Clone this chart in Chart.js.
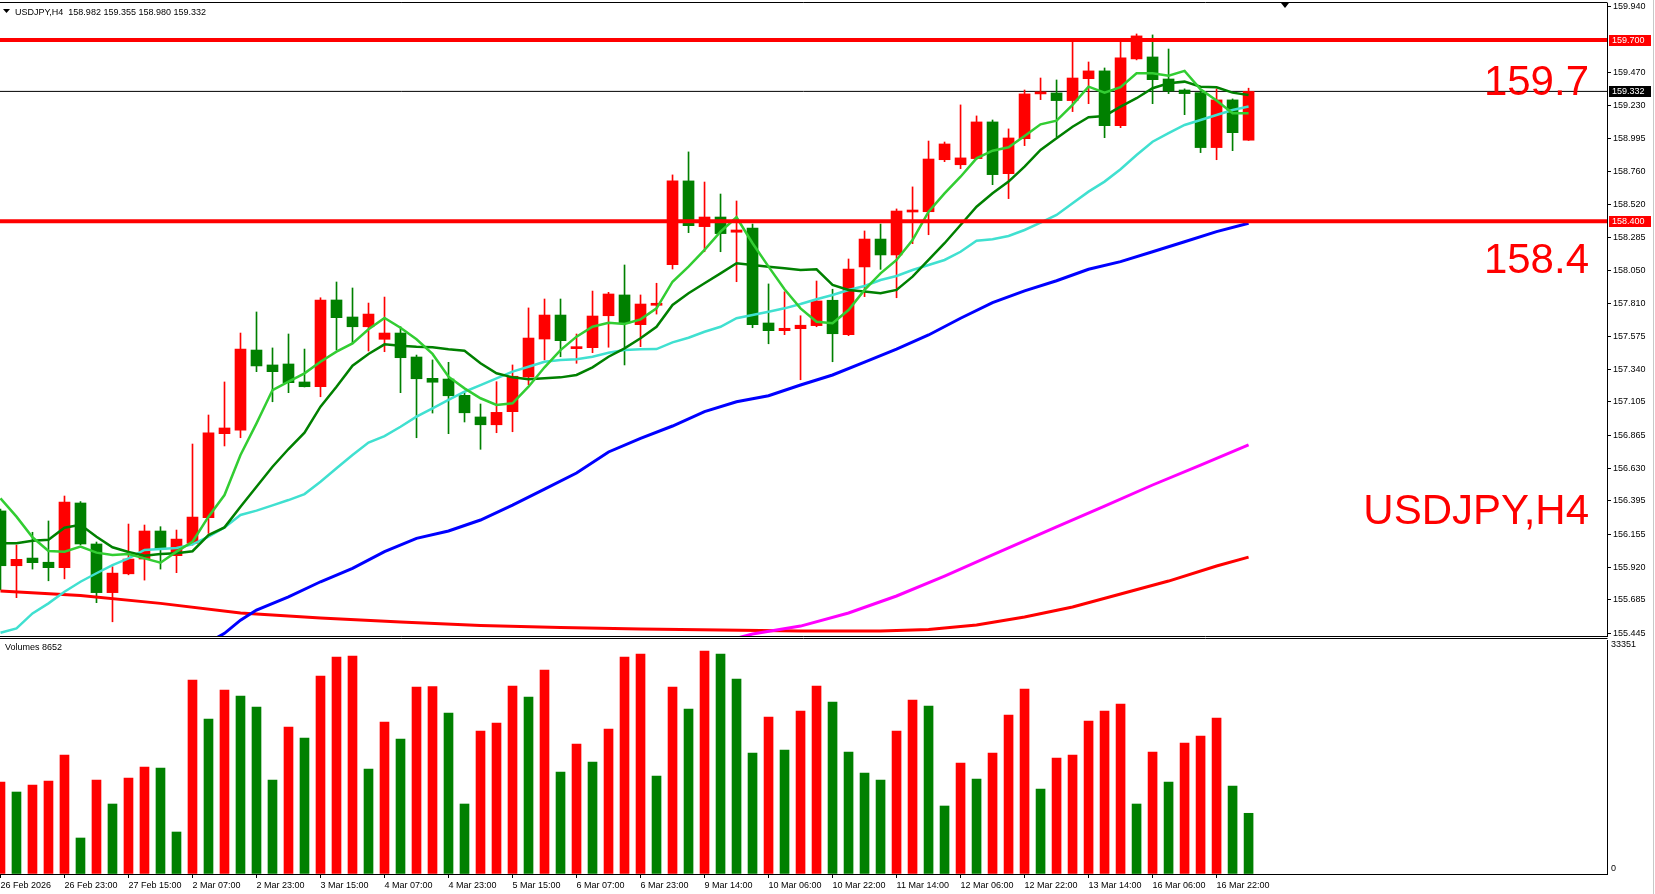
<!DOCTYPE html>
<html>
<head>
<meta charset="UTF-8">
<title>USDJPY,H4</title>
<script src="https://cdn.jsdelivr.net/npm/chart.js"></script>
<style>
  body { margin: 0; background: #fff; }
  #wrap { position: relative; width: 1655px; height: 894px; overflow: hidden; background: #fff; }
  #priceChart { position: absolute; left: 0; top: 0; }
  #volumeChart { position: absolute; left: 0; top: 637px; }
</style>
</head>
<body>
<div id="wrap">
  <canvas id="priceChart" width="1655" height="640"></canvas>
  <canvas id="volumeChart" width="1655" height="257"></canvas>
</div>
<script>
const symbol = 'USDJPY,H4';

// H4 candles, oldest first (bar index 0..78)
const opens = [156.323,155.930,155.985,155.955,155.916,156.380,156.086,155.737,155.872,155.978,
  156.179,156.002,156.091,156.274,156.877,156.903,157.477,157.370,157.377,157.248,
  157.214,157.836,157.714,157.644,157.554,157.599,157.427,157.274,157.269,157.152,
  156.997,156.941,157.035,157.284,157.556,157.728,157.487,157.494,157.723,157.872,
  157.659,157.798,158.089,158.690,158.362,158.431,158.322,158.352,157.671,157.616,
  157.630,157.652,157.834,157.587,158.073,158.273,158.159,158.467,158.469,158.842,
  158.806,158.850,159.113,158.742,158.993,159.314,159.321,159.266,159.423,159.479,
  159.086,159.565,159.579,159.421,159.342,159.323,158.929,159.271,158.982];
const highs = [156.337,156.078,156.170,156.251,156.430,156.390,156.100,155.923,156.229,156.222,
  156.210,156.186,156.803,157.011,157.248,157.599,157.750,157.492,157.592,157.484,
  157.852,157.965,157.922,157.814,157.857,157.644,157.441,157.406,157.389,157.169,
  157.090,157.250,157.370,157.779,157.843,157.843,157.592,157.900,157.891,158.087,
  157.872,157.956,158.733,158.898,158.682,158.596,158.546,158.381,157.951,157.895,
  157.723,157.972,157.913,158.130,158.331,158.381,158.489,158.647,158.976,158.969,
  159.235,159.156,159.127,159.063,159.342,159.428,159.414,159.687,159.543,159.500,
  159.687,159.744,159.737,159.636,159.350,159.335,159.350,159.278,159.355];
const lows = [155.756,155.701,155.906,155.822,155.836,156.080,155.665,155.528,155.865,155.827,
  155.906,155.880,156.078,156.162,156.789,156.848,157.322,157.106,157.171,157.212,
  157.142,157.477,157.527,157.470,157.465,157.171,156.848,157.025,156.877,156.961,
  156.765,156.884,156.891,157.228,157.406,157.429,157.382,157.458,157.497,157.370,
  157.501,157.735,158.058,158.319,158.182,158.182,157.967,157.637,157.522,157.587,
  157.264,157.644,157.393,157.580,157.860,158.056,157.852,158.240,158.304,158.828,
  158.778,158.845,158.663,158.563,158.943,159.273,159.007,159.187,159.244,159.000,
  159.072,159.558,159.244,159.316,159.165,158.893,158.842,158.907,158.980];
const closes = [155.930,155.976,155.952,155.916,156.387,156.086,155.737,155.877,155.978,156.179,
  156.050,156.121,156.279,156.884,156.918,157.484,157.363,157.322,157.243,157.214,
  157.836,157.709,157.644,157.735,157.599,157.422,157.271,157.246,157.149,157.027,
  156.941,157.030,157.289,157.563,157.728,157.544,157.499,157.721,157.879,157.671,
  157.807,157.807,158.690,158.369,158.431,158.312,158.338,157.659,157.616,157.633,
  157.655,157.829,157.594,158.058,158.273,158.159,158.474,158.474,158.847,158.955,
  158.855,159.113,158.735,158.998,159.314,159.323,159.266,159.428,159.479,159.086,
  159.572,159.730,159.416,159.335,159.316,158.929,159.271,159.036,159.332];

const volumes = [13110,11685,12683,13253,16958,5130,13395,9975,13680,15248,
  15105,5985,27645,22088,26220,25365,23798,13395,20948,19380,
  28215,30923,31065,14963,21660,19238,26648,26700,22943,9975,
  20378,21518,26790,25223,29070,14535,18525,15960,20663,30923,
  31350,13965,26648,23513,31778,31350,27788,17243,22373,17670,
  23228,26790,24510,17385,14393,13395,20378,24795,23940,9690,
  15818,13538,17243,22658,26363,12113,16530,16958,21803,23228,
  24225,9975,17385,13110,18668,19665,22230,12540,8652];
const volumeScaleMax = 33351;

// moving averages read per bar
const maLime = [156.413,156.282,156.134,156.036,156.031,156.067,156.024,156.007,156.014,155.983,
  155.952,156.031,156.102,156.282,156.437,156.724,156.951,157.190,157.250,157.310,
  157.393,157.465,157.525,157.626,157.707,157.637,157.554,157.449,157.286,157.202,
  157.131,157.083,157.095,157.214,157.353,157.477,157.573,157.644,157.673,157.664,
  157.697,157.776,157.967,158.075,158.195,158.326,158.429,158.243,158.075,157.913,
  157.776,157.680,157.669,157.764,157.908,158.027,158.123,158.266,158.469,158.601,
  158.720,158.852,158.907,158.931,159.012,159.096,159.122,159.235,159.366,159.323,
  159.362,159.462,159.462,159.445,159.479,159.347,159.266,159.175,159.175];
const maGreen = [156.091,156.091,156.109,156.116,156.203,156.224,156.138,156.062,156.029,156.002,
  156.014,156.019,156.034,156.150,156.205,156.353,156.497,156.640,156.767,156.884,
  157.071,157.214,157.365,157.449,157.518,157.508,157.501,157.497,157.482,157.472,
  157.382,157.310,157.281,157.267,157.274,157.281,157.298,157.353,157.429,157.489,
  157.561,157.644,157.800,157.884,157.956,158.027,158.099,158.087,158.075,158.063,
  158.051,158.056,157.944,157.908,157.896,157.884,157.908,158.003,158.123,158.243,
  158.374,158.505,158.601,158.685,158.792,158.912,158.996,159.079,159.147,159.156,
  159.223,159.283,159.355,159.390,159.402,159.366,159.362,159.323,159.306];
const maTurq = [155.449,155.481,155.588,155.660,155.743,155.815,155.876,155.935,155.983,156.043,
  156.050,156.057,156.083,156.138,156.205,156.294,156.325,156.363,156.401,156.444,
  156.532,156.629,156.724,156.814,156.860,156.927,156.999,157.059,157.119,157.178,
  157.226,157.274,157.322,157.357,157.393,157.406,157.411,157.429,157.458,157.477,
  157.482,157.484,157.532,157.565,157.608,157.644,157.705,157.728,157.752,157.776,
  157.807,157.841,157.872,157.908,157.936,157.979,158.008,158.051,158.087,158.123,
  158.182,158.261,158.271,158.295,158.338,158.390,158.446,158.530,158.613,158.685,
  158.774,158.876,158.971,159.032,159.091,159.127,159.163,159.199,159.223];

// slower averages, read at the listed bars
const maBlueBars = [13,14,15,16,18,20,22,24,26,28,30,32,34,36,38,40,42,44,46,48,50,52,54,56,58,60,62,64,66,68,70,72,74,76,78];
const maBlueVals = [155.380,155.445,155.540,155.612,155.707,155.815,155.911,156.031,156.126,156.179,
  156.258,156.365,156.480,156.595,156.746,156.844,156.932,157.035,157.106,157.149,
  157.226,157.298,157.391,157.484,157.585,157.705,157.817,157.901,157.974,158.056,
  158.111,158.182,158.254,158.326,158.386];
const maMagentaBars = [46,47,50,53,56,59,62,66,69,72,75,78];
const maMagentaVals = [155.410,155.440,155.497,155.591,155.713,155.856,156.007,156.208,156.358,156.509,156.652,156.796];
const maRedBars = [0,5,10,15,20,25,30,35,40,45,50,55,58,61,64,67,70,73,76,78];
const maRedVals = [155.749,155.716,155.660,155.591,155.555,155.526,155.501,155.487,155.476,155.469,
  155.461,155.461,155.472,155.505,155.562,155.634,155.727,155.820,155.928,155.992];

const levels = [159.7, 158.4];
const priceTicks = [159.940,159.470,159.230,158.995,158.760,158.520,158.285,158.050,157.810,157.575,
  157.340,157.105,156.865,156.630,156.395,156.155,155.920,155.685,155.445];
const tickLabels = ['26 Feb 2026','26 Feb 23:00','27 Feb 15:00','2 Mar 07:00','2 Mar 23:00','3 Mar 15:00',
  '4 Mar 07:00','4 Mar 23:00','5 Mar 15:00','6 Mar 07:00','6 Mar 23:00','9 Mar 14:00','10 Mar 06:00',
  '10 Mar 22:00','11 Mar 14:00','12 Mar 06:00','12 Mar 22:00','13 Mar 14:00','16 Mar 06:00','16 Mar 22:00'];
const barsPerTick = 4;

const RED = '#ff0000';
const GREEN = '#008000';
const FONT = '"Liberation Sans", Arial, sans-serif';
Chart.defaults.font.family = FONT;

const idx = opens.map((_, i) => i);
const last = opens.length - 1;
const candleColors = idx.map(i => closes[i] > opens[i] ? RED : GREEN);
const volColors = idx.map(i => (i === 0 || volumes[i] > volumes[i - 1]) ? RED : GREEN);

const perBar = arr => arr.map((v, i) => ({x: i, y: v}));
const sampled = (bars, vals) => bars.map((k, j) => ({x: k, y: vals[j]}));
const hline = v => [{x: -2, y: v}, {x: 102, y: v}];

function maLine(data, color, width, order) {
  return { type: 'line', data: data, borderColor: color, borderWidth: width,
    pointRadius: 0, tension: 0, fill: false, order: order };
}

// same bar spacing on both panels
const xRange = { type: 'linear', min: -0.03, max: 100.4, offset: false };

function fixWidth(scale) {
  scale.width = 48;
  scale.paddingTop = 0;
  scale.paddingBottom = 0;
}

const priceDecor = {
  id: 'priceDecor',
  afterDraw(chart) {
    const ctx = chart.ctx;
    const a = chart.chartArea;
    const y = chart.scales.y;
    ctx.save();
    ctx.strokeStyle = '#000';
    ctx.lineWidth = 1;
    ctx.beginPath();
    ctx.moveTo(0, 2.5); ctx.lineTo(a.right + 0.5, 2.5);
    ctx.moveTo(0, a.bottom + 0.5); ctx.lineTo(a.right + 0.5, a.bottom + 0.5);
    ctx.stroke();
    ctx.strokeStyle = '#c8c8c8';
    ctx.beginPath(); ctx.moveTo(1653.5, 0); ctx.lineTo(1653.5, 640); ctx.stroke();

    // price tags on the axis
    ctx.font = '9px ' + FONT;
    ctx.textAlign = 'left';
    ctx.textBaseline = 'middle';
    const tag = (v, bg) => {
      const py = Math.round(y.getPixelForValue(v));
      ctx.fillStyle = bg;
      ctx.fillRect(a.right + 2, py - 5, 42, 11);
      ctx.fillStyle = '#fff';
      ctx.fillText(v.toFixed(3), a.right + 5, py + 0.5);
    };
    levels.forEach(v => tag(v, RED));
    tag(closes[last], '#000');

    // header
    ctx.fillStyle = '#000';
    ctx.beginPath(); ctx.moveTo(3, 9); ctx.lineTo(10, 9); ctx.lineTo(6.5, 13); ctx.closePath(); ctx.fill();
    ctx.textBaseline = 'alphabetic';
    ctx.fillText(symbol + '  ' + [opens[last], highs[last], lows[last], closes[last]].map(v => v.toFixed(3)).join(' '), 15, 14.5);
    // shift marker
    ctx.beginPath(); ctx.moveTo(1281, 3); ctx.lineTo(1289, 3); ctx.lineTo(1285, 8); ctx.closePath(); ctx.fill();

    // large labels
    ctx.fillStyle = RED;
    ctx.font = '42px ' + FONT;
    ctx.textAlign = 'right';
    ctx.fillText(levels[0].toFixed(1), 1589, 95);
    ctx.fillText(levels[1].toFixed(1), 1589, 273);
    ctx.fillText(symbol, 1589, 524);
    ctx.restore();
  }
};

new Chart(document.getElementById('priceChart'), {
  data: {
    datasets: [
      { type: 'bar', data: idx.map(i => ({x: i, y: [lows[i], highs[i]]})), backgroundColor: candleColors,
        barThickness: 1, grouped: false, borderWidth: 0, order: 20 },
      { type: 'bar', data: idx.map(i => ({x: i, y: [opens[i], closes[i]]})), backgroundColor: candleColors,
        barThickness: 11, minBarLength: 2, grouped: false, borderWidth: 0, order: 19 },
      maLine(hline(closes[last]), '#000', 1, 21),
      maLine(sampled(maRedBars, maRedVals), RED, 3, 9),
      maLine(sampled(maMagentaBars, maMagentaVals), '#ff00ff', 3, 8),
      maLine(sampled(maBlueBars, maBlueVals), '#0000ff', 3, 7),
      maLine(perBar(maTurq), '#40e0d0', 2.5, 6),
      maLine(perBar(maGreen), GREEN, 2.5, 5),
      maLine(perBar(maLime), '#32cd32', 2.5, 4),
      maLine(hline(levels[0]), RED, 4, 1),
      maLine(hline(levels[1]), RED, 4, 1)
    ]
  },
  options: {
    responsive: false,
    animation: false,
    devicePixelRatio: 1,
    events: [],
    layout: { padding: { left: 0, right: 0, top: 3, bottom: 4 } },
    plugins: { legend: { display: false }, tooltip: { enabled: false } },
    scales: {
      x: Object.assign({ display: false }, xRange),
      y: {
        position: 'right',
        min: 155.426,
        max: 159.966,
        afterBuildTicks: s => { s.ticks = priceTicks.map(v => ({value: v})); },
        afterFit: fixWidth,
        ticks: { callback: v => v.toFixed(3), color: '#000', font: { size: 9 }, padding: 2, autoSkip: false },
        grid: { drawOnChartArea: false, tickLength: 4, color: '#000' },
        border: { display: true, color: '#000', width: 1 }
      }
    }
  },
  plugins: [priceDecor]
});

const volumeDecor = {
  id: 'volumeDecor',
  afterDraw(chart) {
    const ctx = chart.ctx;
    const a = chart.chartArea;
    ctx.save();
    ctx.strokeStyle = '#000';
    ctx.lineWidth = 1;
    ctx.beginPath(); ctx.moveTo(0, 1.5); ctx.lineTo(a.right + 0.5, 1.5); ctx.stroke();
    ctx.strokeStyle = '#c8c8c8';
    ctx.beginPath(); ctx.moveTo(1653.5, 0); ctx.lineTo(1653.5, 257); ctx.stroke();
    ctx.fillStyle = '#000';
    ctx.font = '9px ' + FONT;
    ctx.textBaseline = 'middle';
    ctx.textAlign = 'left';
    ctx.fillText('Volumes ' + volumes[last], 5, 11);
    ctx.fillText(String(volumeScaleMax), a.right + 4, 8);
    ctx.fillText('0', a.right + 4, a.bottom - 5);
    ctx.restore();
  }
};

new Chart(document.getElementById('volumeChart'), {
  data: {
    datasets: [
      { type: 'bar', data: perBar(volumes), backgroundColor: volColors, barThickness: 9,
        grouped: false, borderWidth: 0 }
    ]
  },
  options: {
    responsive: false,
    animation: false,
    devicePixelRatio: 1,
    events: [],
    layout: { padding: { left: 0, right: 0, top: 3, bottom: 0 } },
    plugins: { legend: { display: false }, tooltip: { enabled: false } },
    scales: {
      x: Object.assign({
        position: 'bottom',
        afterBuildTicks: s => { s.ticks = tickLabels.map((_, j) => ({value: j * barsPerTick})); },
        afterFit: s => { s.height = 20; s.paddingLeft = 0; s.paddingRight = 0; },
        ticks: { callback: (v, i) => tickLabels[i], align: 'start', maxRotation: 0, autoSkip: false,
          color: '#000', font: { size: 9 }, padding: 2 },
        grid: { drawOnChartArea: false, tickLength: 4, color: '#000', offset: false },
        border: { display: true, color: '#000', width: 1 }
      }, xRange),
      y: {
        position: 'right',
        min: 0,
        max: volumeScaleMax,
        afterFit: fixWidth,
        ticks: { display: false },
        grid: { drawOnChartArea: false, drawTicks: false },
        border: { display: true, color: '#000', width: 1 }
      }
    }
  },
  plugins: [volumeDecor]
});
</script>
</body>
</html>
